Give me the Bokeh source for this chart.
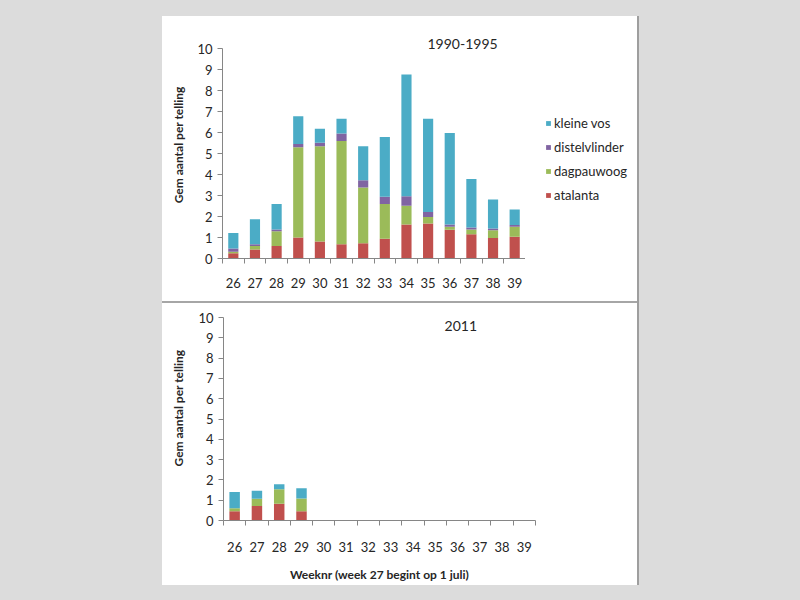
from bokeh.plotting import figure
from bokeh.models import Range1d, FixedTicker, Legend, LegendItem, Label
from bokeh.layouts import column, row
from bokeh.embed import file_html
from bokeh.resources import INLINE

# ---------------- data ----------------
weeks = [26, 27, 28, 29, 30, 31, 32, 33, 34, 35, 36, 37, 38, 39]
week_labels = [str(w) for w in weeks]
species = ["atalanta", "dagpauwoog", "distelvlinder", "kleine vos"]
colors = ["#C0504D", "#9BBB59", "#8064A2", "#4BACC6"]

atalanta_9095 = [0.25, 0.43, 0.59, 1.00, 0.81, 0.68, 0.73, 0.94, 1.62, 1.67, 1.37, 1.16, 0.98, 1.03]
dagpauwoog_9095 = [0.07, 0.17, 0.71, 4.30, 4.54, 4.92, 2.65, 1.66, 0.89, 0.31, 0.14, 0.22, 0.37, 0.48]
distelvlinder_9095 = [0.16, 0.08, 0.08, 0.15, 0.16, 0.35, 0.35, 0.34, 0.46, 0.24, 0.11, 0.10, 0.08, 0.08]
kleinevos_9095 = [0.74, 1.19, 1.21, 1.32, 0.67, 0.70, 1.62, 2.85, 5.79, 4.43, 4.36, 2.30, 1.38, 0.74]

weeks_2011 = [26, 27, 28, 29]
atalanta_2011 = [0.46, 0.72, 0.82, 0.46]
dagpauwoog_2011 = [0.14, 0.35, 0.72, 0.62]
distelvlinder_2011 = [0.0, 0.0, 0.0, 0.0]
kleinevos_2011 = [0.81, 0.39, 0.25, 0.51]

y_ticks = [0, 1, 2, 3, 4, 5, 6, 7, 8, 9, 10]
title_top = "1990-1995"
title_bottom = "2011"
y_title = "Gem aantal per telling"
x_title = "Weeknr (week 27 begint op 1 juli)"

FONT = "Lato"
TXT = "#262626"
AXC = "#868686"
NAN = float("nan")


def blank_fig(width, height):
    f = figure(width=width, height=height, output_backend="svg", toolbar_location=None,
               x_range=Range1d(0, 1), y_range=Range1d(0, 1),
               x_axis_type=None, y_axis_type=None, min_border=0)
    f.outline_line_color = None
    f.xgrid.visible = False
    f.ygrid.visible = False
    f.background_fill_alpha = 0
    f.border_fill_color = "white"
    return f


def label_fig(height, ypos):
    f = blank_fig(30, height)
    f.add_layout(Label(x=0.52, y=ypos, text=y_title, angle=1.5708, text_align="left",
                       text_baseline="middle", text_font=FONT, text_font_size="12px",
                       text_font_style="bold", text_color=TXT))
    return f


def make_fig(width, height, left, right, top, bottom, xs, series):
    p = figure(width=width, height=height, output_backend="svg", toolbar_location=None,
               x_range=Range1d(weeks[0] - 0.5, weeks[-1] + 0.5), y_range=Range1d(0, 10),
               min_border_left=left, min_border_right=right,
               min_border_top=top, min_border_bottom=bottom)
    p.outline_line_color = None
    p.xgrid.visible = False
    p.ygrid.visible = False
    p.background_fill_alpha = 0
    p.border_fill_color = "white"

    data = dict(x=xs)
    for name, vals in zip(species, series):
        data[name] = vals
    rs = p.vbar_stack(species, x="x", width=0.47, color=colors, source=data, line_color=None)

    xa = p.xaxis[0]
    xa.ticker = FixedTicker(ticks=weeks, minor_ticks=[w - 0.5 for w in weeks] + [weeks[-1] + 0.5])
    xa.major_label_overrides = {w: l for w, l in zip(weeks, week_labels)}
    xa.major_tick_line_color = None
    xa.major_tick_out = 0
    xa.major_tick_in = 0
    xa.minor_tick_line_color = AXC
    xa.minor_tick_out = 5
    xa.minor_tick_in = 0
    xa.axis_line_color = AXC
    xa.major_label_text_font = FONT
    xa.major_label_text_font_size = "13px"
    xa.major_label_text_color = TXT
    xa.major_label_standoff = 14

    ya = p.yaxis[0]
    ya.ticker = FixedTicker(ticks=y_ticks)
    ya.minor_tick_line_color = None
    ya.major_tick_line_color = AXC
    ya.major_tick_out = 5
    ya.major_tick_in = 0
    ya.axis_line_color = AXC
    ya.major_label_text_font = FONT
    ya.major_label_text_font_size = "13px"
    ya.major_label_text_color = TXT
    ya.major_label_standoff = 5
    return p, rs


# ---------- top panel ----------
top, rs_top = make_fig(333, 285, 30, 0, 32, 43, weeks,
                       [atalanta_9095, dagpauwoog_9095, distelvlinder_9095, kleinevos_9095])
top.title.text = title_top
top.title.align = "left"
top.title.offset = 205
top.title.standoff = 0
top.title.text_font = FONT
top.title.text_font_size = "14px"
top.title.text_font_style = "normal"
top.title.text_color = TXT

leg_fig = blank_fig(112, 285)
leg_rs = [leg_fig.vbar(x=[NAN], top=[NAN], width=0.5, fill_color=c, line_color=None)
          for c in colors]
items = [LegendItem(label=s, renderers=[r]) for s, r in zip(species, leg_rs)][::-1]
legend = Legend(items=items, location=(20, 55), padding=0, margin=0, spacing=8,
                glyph_width=6, glyph_height=6, label_height=16, label_standoff=3,
                label_text_font=FONT, label_text_font_size="13px", label_text_color=TXT,
                border_line_color=None, background_fill_alpha=0)
leg_fig.add_layout(legend)

# ---------- bottom panel ----------
bottom, rs_bot = make_fig(445, 282, 31, 102, 14, 65, weeks_2011,
                          [atalanta_2011, dagpauwoog_2011, distelvlinder_2011, kleinevos_2011])
bottom.add_layout(Label(x=36.15, y=9.56, text=title_bottom, text_align="center",
                        text_baseline="middle", text_font=FONT, text_font_size="14px",
                        text_color=TXT))
bx = bottom.xaxis[0]
bx.major_label_standoff = 16
bx.axis_label = x_title
bx.axis_label_text_font = FONT
bx.axis_label_text_font_size = "12px"
bx.axis_label_text_font_style = "bold"
bx.axis_label_text_color = TXT
bx.axis_label_standoff = 12

layout = column(row(label_fig(285, 0.263), top, leg_fig, spacing=0,
                    styles={"background-color": "white"}),
                row(label_fig(282, 0.266), bottom, spacing=0,
                    styles={"background-color": "white"}), spacing=2)

html = file_html(layout, INLINE)
css = ("<style>html, body { margin: 0 !important; padding: 0; }"
       " body { padding: 16px 0 0 162px !important; background:"
       " linear-gradient(#9e9e9e, #9e9e9e) no-repeat 637px 16px / 2px 569px,"
       " linear-gradient(#a6a6a6, #a6a6a6) no-repeat 162px 301px / 477px 2px,"
       " #dcdcdc !important; }</style>")
html = html.replace("</head>", css + "\n</head>", 1)
open("out.html", "w").write(html)
